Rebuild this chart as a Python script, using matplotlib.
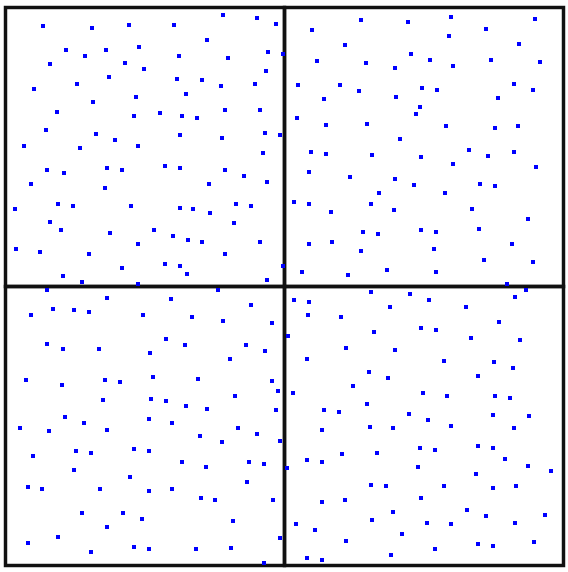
import matplotlib.pyplot as plt
from matplotlib.patches import Rectangle

# region split into four cells (x, y, width, height), y measured downward
cell_x = [0, 279, 0, 279]
cell_y = [0, 0, 279, 279]
cell_w = [279, 279, 279, 279]
cell_h = [279, 279, 279, 279]

# top-left cell
pts_tl_x = [38, 87, 124, 169, 61, 80, 101, 134, 174, 45, 120, 139, 104, 172, 29, 72, 131, 181, 88, 52,
            129, 155, 177, 41, 91, 110, 175, 19, 75, 133, 42, 59, 102, 117, 160, 175, 26, 100,
            218, 252, 271, 202, 263, 223, 261, 197, 216, 250, 220, 255, 192, 217, 260, 275, 258, 220,
            239, 204, 262,
            10, 53, 68, 126, 175, 45, 56, 105, 149, 168, 183, 11, 35, 84, 133, 117, 160, 175, 182, 58,
            77, 133,
            188, 231, 246, 205, 229, 197, 255, 220, 278, 262, 278]
pts_tl_y = [19, 21, 18, 18, 43, 49, 43, 40, 49, 57, 56, 62, 70, 72, 82, 77, 90, 87, 95, 105,
            109, 106, 109, 123, 127, 133, 128, 139, 141, 139, 163, 166, 161, 163, 159, 161, 177, 181,
            8, 11, 17, 33, 45, 51, 64, 73, 79, 77, 103, 103, 111, 131, 126, 128, 146, 163,
            169, 177, 175,
            202, 197, 199, 199, 201, 215, 223, 226, 223, 229, 233, 242, 245, 247, 237, 261, 257, 259, 267, 269,
            275, 277,
            202, 197, 199, 206, 216, 235, 235, 247, 259, 273, 47]

# top-right cell
pts_tr_x = [356, 307, 340, 312, 361, 293, 335, 354, 319, 292, 321, 362, 306, 321, 367, 304, 345,
            446, 403, 530, 481, 444, 514, 406, 425, 486, 535, 390, 448, 509, 528, 417, 432, 391, 493,
            415, 411, 441, 490, 513, 395, 464, 483, 509, 416, 448, 531, 390, 409, 475, 490,
            289, 304, 326, 366, 374, 358, 373, 304, 327, 356, 297, 343,
            440, 389, 467, 523, 416, 431, 474, 507, 429, 479, 528, 382, 431, 502]
pts_tr_y = [13, 23, 38, 54, 56, 78, 78, 84, 92, 111, 118, 117, 145, 147, 148, 165, 170,
            10, 15, 12, 22, 29, 37, 47, 53, 53, 55, 61, 59, 77, 83, 81, 83, 90, 91,
            100, 107, 119, 121, 119, 132, 143, 149, 145, 150, 157, 160, 172, 178, 177, 179,
            195, 197, 205, 197, 186, 225, 227, 237, 235, 244, 265, 268,
            186, 203, 202, 212, 223, 225, 222, 237, 242, 253, 255, 263, 265, 277]

# bottom-left cell
pts_bl_x = [42, 102, 166, 48, 69, 84, 26, 138, 161, 180, 42, 58, 94, 145, 21, 100, 148,
            213, 246, 187, 218, 267, 241, 260, 225, 193,
            57, 115, 98, 146, 161, 181, 60, 79, 144, 167, 15, 44, 102, 71, 86, 129, 144, 28, 177,
            69, 125, 23, 37, 95, 144, 167, 77, 118, 137, 102, 53, 23, 86, 129, 144,
            267, 273, 230, 202, 271, 233, 252, 195, 217, 275, 244, 259, 201, 242, 196, 210, 268,
            228, 275, 191, 226, 259]
pts_bl_y = [283, 291, 292, 302, 303, 305, 308, 308, 332, 338, 337, 342, 342, 346, 373, 373, 370,
            283, 298, 310, 314, 316, 338, 344, 352, 372,
            378, 375, 393, 392, 394, 399, 410, 416, 412, 416, 421, 424, 423, 444, 446, 442, 444, 449, 455,
            463, 470, 480, 482, 482, 484, 482, 506, 506, 512, 520, 530, 536, 545, 540, 542,
            374, 384, 389, 402, 403, 421, 427, 429, 435, 434, 455, 457, 460, 475, 491, 493, 493,
            514, 531, 542, 541, 556]

# bottom-right cell
pts_br_x = [289, 304, 303, 336, 366, 283, 369, 341, 302, 364,
            521, 405, 424, 510, 385, 461, 494, 416, 431, 466, 515, 390, 439, 489, 508, 383, 473,
            348, 288, 362, 319, 334, 317, 365, 337, 372, 302, 317, 282, 366, 317, 340, 367, 291, 310,
            341, 302, 317,
            418, 442, 490, 505, 404, 423, 488, 524, 388, 446, 509, 415, 430, 473, 488, 500, 523, 546,
            413, 471, 381, 439, 488, 511, 416, 388, 462, 481, 540, 422, 446, 510, 397, 529, 473, 488,
            430, 386]
pts_br_y = [293, 295, 308, 310, 285, 329, 325, 341, 352, 365,
            283, 287, 293, 290, 300, 300, 315, 321, 323, 331, 333, 343, 354, 355, 361, 371, 369,
            379, 386, 397, 403, 405, 423, 420, 447, 446, 453, 455, 461, 478, 495, 493, 513, 517, 523,
            534, 551, 553,
            386, 389, 389, 391, 407, 413, 408, 409, 421, 419, 421, 441, 443, 439, 441, 452, 459, 464,
            460, 467, 479, 479, 481, 479, 491, 505, 503, 509, 508, 516, 517, 516, 527, 535, 537, 539,
            542, 548]


def plot_cells():
    fig = plt.figure(figsize=(5.68, 5.72), dpi=100)
    ax = fig.add_axes([5.3 / 568, 6.7 / 572, 558 / 568, 558 / 572])
    ax.set_xlim(0, 558)
    ax.set_ylim(558, 0)
    ax.axis('off')

    for x, y, w, h in zip(cell_x, cell_y, cell_w, cell_h):
        ax.add_patch(Rectangle((x, y), w, h, fill=False, edgecolor='#111111',
                               linewidth=2.5, clip_on=False, zorder=1))

    for xs, ys in [(pts_tl_x, pts_tl_y), (pts_tr_x, pts_tr_y),
                   (pts_bl_x, pts_bl_y), (pts_br_x, pts_br_y)]:
        ax.plot(xs, ys, 's', color='#0000ff', markersize=2.3, markeredgewidth=0,
                linestyle='none', clip_on=False, zorder=3)

    plt.savefig('out.png', dpi=100)


if __name__ == '__main__':
    plot_cells()
